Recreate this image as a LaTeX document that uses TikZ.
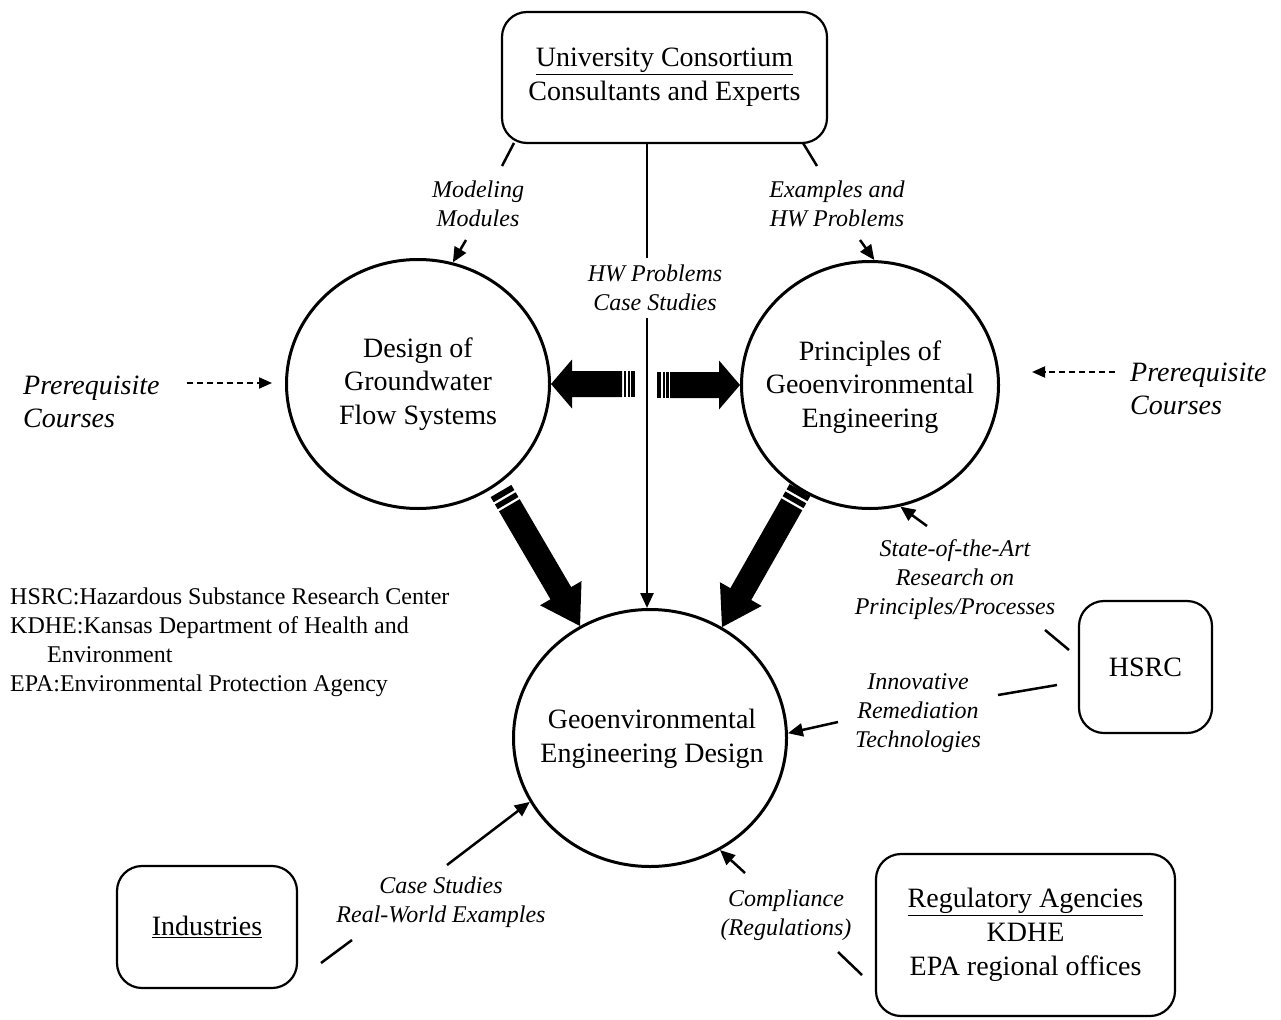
\documentclass[tikz,border=0pt]{standalone}
\usepackage{fontspec}
\setmainfont{Liberation Serif}
\usetikzlibrary{calc,arrows.meta,shapes.geometric}
\newcommand\fatarrow[6]{%
  \coordinate (fahb) at ($(#2)!#5!(#1)$);
  \coordinate (fas) at ($(#1)!#4!(#2)$);
  \fill ($(fas)!#3!90:(#2)$) -- ($(fahb)!#3!90:(#2)$) -- ($(fahb)!#6!90:(#2)$) -- (#2) -- ($(fahb)!#6!-90:(#2)$) -- ($(fahb)!#3!-90:(#2)$) -- ($(fas)!#3!-90:(#2)$) -- cycle;
}
\newcommand\fabar[5]{%
  \coordinate (faa) at ($(#1)!#3!(#2)$);
  \coordinate (fab) at ($(#1)!#4!(#2)$);
  \fill ($(faa)!#5!90:(#2)$) -- ($(fab)!#5!90:(#2)$) -- ($(fab)!#5!-90:(#2)$) -- ($(faa)!#5!-90:(#2)$) -- cycle;
}
\begin{document}
\begin{tikzpicture}[x=1pt,y=-1pt,
  box/.style={draw, line width=2.2pt, rounded corners=25pt, align=center,
    font=\fontsize{28}{34}\selectfont, inner sep=0pt},
  circ/.style={ellipse, draw, line width=3pt, inner sep=0pt},
  ctext/.style={align=center, font=\fontsize{28}{33.5}\selectfont, inner sep=0pt},
  lab/.style={font=\fontsize{24}{29}\selectfont\itshape, align=center, inner sep=0pt},
  conn/.style={line width=2.5pt},
  arr/.style={conn, -{Triangle[length=15pt,width=13pt]}},
  dasharr/.style={line width=2pt, dash pattern=on 6pt off 4pt, -{Triangle[length=13pt,width=11pt]}}
]
\useasboundingbox (0,0) rectangle (1281,1019);

% boxes
\node[box, minimum width=325pt, minimum height=131pt] (univ) at (664.5,77.5)
  {\underline{University Consortium}\\Consultants and Experts};
\node[box, minimum width=180pt, minimum height=122pt] (ind) at (207,927) {\underline{Industries}};
\node[box, minimum width=133pt, minimum height=132pt] (hsrc) at (1145.5,667) {HSRC};
\node[box, minimum width=299pt, minimum height=162pt] (reg) at (1025.5,935)
  {\underline{Regulatory Agencies}\\KDHE\\EPA regional offices};

% circles
\node[circ, minimum width=263pt, minimum height=249pt] (design) at (418,384) {};
\node[ctext] (designt) at (418,384) {Design of\\Groundwater\\Flow Systems};
\node[circ, minimum width=257pt, minimum height=247pt] (princ) at (870,385) {};
\node[ctext] (princt) at (870,387) {Principles of\\Geoenvironmental\\Engineering};
\node[circ, minimum width=273pt, minimum height=257pt] (geo) at (650,738) {};
\node[ctext] (geot) at (652,739) {Geoenvironmental\\Engineering Design};

% labels
\node[lab] (lmod) at (478,204) {Modeling\\Modules};
\node[lab] (lex) at (837,204) {Examples and\\HW Problems};
\node[lab] (lhw) at (655,288) {HW Problems\\Case Studies};
\node[lab] (lsta) at (955,580) {State-of-the-Art\\Research on\\Principles/Processes};
\node[lab] (linn) at (918,713) {Innovative\\Remediation\\Technologies};
\node[lab] (lcase) at (441,902) {Case Studies\\Real-World Examples};
\node[lab] (lcomp) at (786,915) {Compliance\\(Regulations)};

\node[font=\fontsize{28}{33}\selectfont\itshape, align=left, anchor=west, inner sep=0pt] (preL) at (23,402) {Prerequisite\\Courses};
\node[font=\fontsize{28}{33}\selectfont\itshape, align=left, anchor=west, inner sep=0pt] (preR) at (1130,389) {Prerequisite\\Courses};

\node[font=\fontsize{24}{29}\selectfont, align=left, anchor=north west, inner sep=0pt] (legend) at (10,588)
  {HSRC:Hazardous Substance Research Center\\KDHE:Kansas Department of Health and\\\hspace*{37pt}Environment\\EPA:Environmental Protection Agency};

% coordinates for connector ends
\coordinate (m1) at (514,143); \coordinate (m2) at (502,166); \coordinate (m3) at (466,240);
\coordinate (e1) at (803,143); \coordinate (e2) at (817,166); \coordinate (e3) at (860,240);
\coordinate (h1) at (647,143); \coordinate (h2) at (647,258); \coordinate (h3) at (647,318);
\coordinate (s1) at (1069,650); \coordinate (s2) at (1045,630); \coordinate (s3) at (927,526);
\coordinate (i1) at (1057,685); \coordinate (i2) at (998,695); \coordinate (i3) at (838,722);
\coordinate (c1) at (321,963); \coordinate (c2) at (352,940); \coordinate (c3) at (447,865);
\coordinate (r1) at (862,975); \coordinate (r2) at (838,952); \coordinate (r3) at (745,873);
\coordinate (pl1) at (187,383); \coordinate (pl2) at (272,383);
\coordinate (pr1) at (1115,372); \coordinate (pr2) at (1032,372);

% connectors
\draw[conn] (m1) -- (m2); \draw[arr] (m3) -- (design.74);
\draw[conn] (e1) -- (e2); \draw[arr] (e3) -- (princ.88);
\draw[conn] (h1) -- (h2); \draw[arr] (h3) -- (h3 |- geo.north);
\draw[conn] (s1) -- (s2); \draw[arr] (s3) -- (princ.-76);
\draw[conn] (i1) -- (i2); \draw[arr] (i3) -- (geo.2);
\draw[conn] (c1) -- (c2); \draw[arr] (c3) -- (geo.208.6);
\draw[conn] (r1) -- (r2); \draw[arr] (r3) -- (geo.-58);
\draw[dasharr] (pl1) -- (pl2);
\draw[dasharr] (pr1) -- (pr2);

% fat arrows
\coordinate (fl) at (635,384);
\coordinate (fr) at (657,385);
\coordinate (dl) at (501,491);
\coordinate (dr) at (800,490);
\fatarrow{fl}{design.east}{13pt}{13pt}{21pt}{24.5pt}
\fabar{fl}{design.east}{0pt}{4pt}{13pt}
\fabar{fl}{design.east}{5.5pt}{7.5pt}{13pt}
\fabar{fl}{design.east}{9pt}{11.5pt}{13pt}
\fatarrow{fr}{princ.west}{13pt}{13pt}{21pt}{24.5pt}
\fabar{fr}{princ.west}{0pt}{4pt}{13pt}
\fabar{fr}{princ.west}{5.5pt}{7.5pt}{13pt}
\fabar{fr}{princ.west}{9pt}{11.5pt}{13pt}
\fatarrow{dl}{geo.122}{12pt}{16.5pt}{38pt}{24pt}
\fabar{dl}{geo.122}{0pt}{6pt}{12pt}
\fabar{dl}{geo.122}{8.5pt}{14pt}{12pt}
\fatarrow{dr}{geo.57}{12pt}{16.5pt}{38pt}{24pt}
\fabar{dr}{geo.57}{0pt}{6pt}{12pt}
\fabar{dr}{geo.57}{8.5pt}{14pt}{12pt}
\end{tikzpicture}
\end{document}
